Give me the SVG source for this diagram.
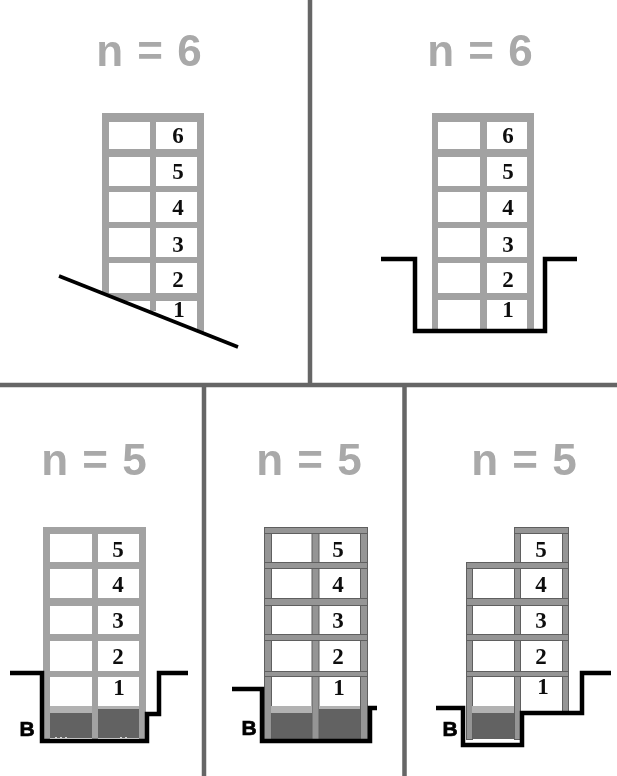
<svg xmlns="http://www.w3.org/2000/svg" width="617" height="776" viewBox="0 0 617 776">
<style>
.h{font:bold 44px "Liberation Sans",Arial,sans-serif;fill:#a9a9a9;text-anchor:middle;word-spacing:2px}
.d{font:bold 23px "Liberation Serif","Times New Roman",serif;fill:#111;text-anchor:middle}
.b{font:bold 21px "Liberation Sans",Arial,sans-serif;fill:#000;stroke:#000;stroke-width:.7;text-anchor:middle}
.div{stroke:#666;stroke-width:4.500;fill:none}
.g{stroke:#000;stroke-width:4.500;fill:none}
.sl{stroke:#000;stroke-width:3.500;fill:none}
.f{fill:#a2a2a2}
.f2{fill:#959595;stroke:#5f5f5f;stroke-width:1}
.dk{fill:#626262}
.lt{fill:#b2b2b2}
.sp{stroke:#fff;stroke-width:1.500;stroke-dasharray:2 3;fill:none}
</style>
<defs><filter id="s" x="-5%" y="-5%" width="110%" height="110%"><feGaussianBlur stdDeviation="0.45"/></filter></defs>
<rect width="617" height="776" fill="#fff"/>
<g id="dividers">
<path class="div" d="M310 0V385M0 385H617M204 385V776M404.500 385V776"/>
</g>
<g id="panel-a" filter="url(#s)">
<text class="h" x="149" y="66">n = 6</text>
<rect class="f" x="102" y="113" width="7" height="181"/><rect class="f" x="150" y="113" width="6" height="198"/><rect class="f" x="197" y="113" width="7" height="219"/>
<rect class="f" x="102" y="113" width="102" height="9"/><rect class="f" x="102" y="149" width="102" height="8"/><rect class="f" x="102" y="186" width="102" height="6"/><rect class="f" x="102" y="222" width="102" height="6"/><rect class="f" x="102" y="257" width="102" height="6"/><polygon class="f" points="104,293 204,293 204,301 124,301"/>
<text class="d" x="178" y="143">6</text><text class="d" x="178" y="179">5</text><text class="d" x="178" y="215">4</text><text class="d" x="178" y="252">3</text><text class="d" x="178" y="287">2</text><text class="d" x="179" y="317">1</text>
<path class="sl" d="M59 276L238 347"/>
</g>
<g id="panel-b" filter="url(#s)">
<text class="h" x="480" y="66">n = 6</text>
<rect class="f" x="432" y="113" width="6" height="216"/><rect class="f" x="480" y="113" width="7" height="216"/><rect class="f" x="527" y="113" width="7" height="216"/>
<rect class="f" x="432" y="113" width="102" height="9"/><rect class="f" x="432" y="149" width="102" height="8"/><rect class="f" x="432" y="186" width="102" height="6"/><rect class="f" x="432" y="222" width="102" height="6"/><rect class="f" x="432" y="257" width="102" height="6"/><rect class="f" x="432" y="293" width="102" height="7"/>
<text class="d" x="508" y="143">6</text><text class="d" x="508" y="179">5</text><text class="d" x="508" y="215">4</text><text class="d" x="508" y="252">3</text><text class="d" x="508" y="287">2</text><text class="d" x="508" y="317">1</text>
<path class="g" d="M381 259H415V331H545V259H577"/>
</g>
<g id="panel-c" filter="url(#s)">
<text class="h" x="94" y="475">n = 5</text>
<rect class="dk" x="50" y="713" width="42" height="25"/><rect class="dk" x="98" y="709" width="41" height="29"/>
<rect class="f" x="43" y="527" width="7" height="212"/><rect class="f" x="92" y="527" width="6" height="212"/><rect class="f" x="139" y="527" width="7" height="212"/>
<rect class="f" x="43" y="527" width="103" height="7"/><rect class="f" x="43" y="562" width="103" height="7"/><rect class="f" x="43" y="598" width="103" height="8"/><rect class="f" x="43" y="634" width="103" height="7"/><rect class="f" x="43" y="671" width="103" height="6"/><rect class="lt" x="50" y="706" width="42" height="7"/><rect class="lt" x="98" y="706" width="41" height="3"/>
<path class="sp" d="M55 738H70M120 738H129"/>
<text class="d" x="118" y="557">5</text><text class="d" x="118" y="592">4</text><text class="d" x="118" y="628">3</text><text class="d" x="118" y="664">2</text><text class="d" x="119" y="695">1</text>
<path class="g" d="M10 673H42V741H147V714H159V673H188"/>
<text class="b" x="27" y="736">B</text>
</g>
<g id="panel-d" filter="url(#s)">
<text class="h" x="309" y="475">n = 5</text>
<rect class="dk" x="271" y="713" width="41" height="26"/><rect class="dk" x="319" y="709" width="41" height="30"/>
<rect class="f2" x="264.500" y="527.500" width="7" height="212"/><rect class="f2" x="312" y="527.500" width="7" height="212"/><rect class="f2" x="360.500" y="527.500" width="7" height="212"/>
<rect class="f2" x="264.500" y="527.500" width="103" height="6"/><rect class="f2" x="264.500" y="562.500" width="103" height="6"/><rect class="f2" x="264.500" y="598.500" width="103" height="7"/><rect class="f2" x="264.500" y="634.500" width="103" height="6"/><rect class="f2" x="264.500" y="671.500" width="103" height="5"/><rect class="lt" x="271" y="706" width="41" height="7"/><rect class="lt" x="319" y="706" width="41" height="3"/>
<text class="d" x="338" y="557">5</text><text class="d" x="338" y="592">4</text><text class="d" x="338" y="628">3</text><text class="d" x="338" y="664">2</text><text class="d" x="339" y="695">1</text>
<path class="g" d="M232 689H262V741H370V708H377"/>
<text class="b" x="249" y="735">B</text>
</g>
<g id="panel-e" filter="url(#s)">
<text class="h" x="524" y="475">n = 5</text>
<rect class="dk" x="472" y="713" width="42" height="26"/>
<rect class="f2" x="466.500" y="562.500" width="6" height="177"/><rect class="f2" x="514.500" y="527.500" width="6" height="212"/><rect class="f2" x="562.500" y="527.500" width="6" height="184"/>
<rect class="f2" x="514.500" y="527.500" width="54" height="6"/><rect class="f2" x="466.500" y="562.500" width="102" height="6"/><rect class="f2" x="466.500" y="598.500" width="102" height="7"/><rect class="f2" x="466.500" y="634.500" width="102" height="6"/><rect class="f2" x="466.500" y="671.500" width="102" height="5"/><rect class="lt" x="472" y="706" width="42" height="7"/>
<path class="sp" d="M473 740H497"/><path stroke="#fff" stroke-width="1.500" d="M499 740H507"/>
<text class="d" x="541" y="557">5</text><text class="d" x="541" y="592">4</text><text class="d" x="541" y="628">3</text><text class="d" x="541" y="664">2</text><text class="d" x="543" y="694">1</text>
<path class="g" d="M436 708H463V745H522V713H582V673H611"/>
<text class="b" x="450" y="736">B</text>
</g>
</svg>
